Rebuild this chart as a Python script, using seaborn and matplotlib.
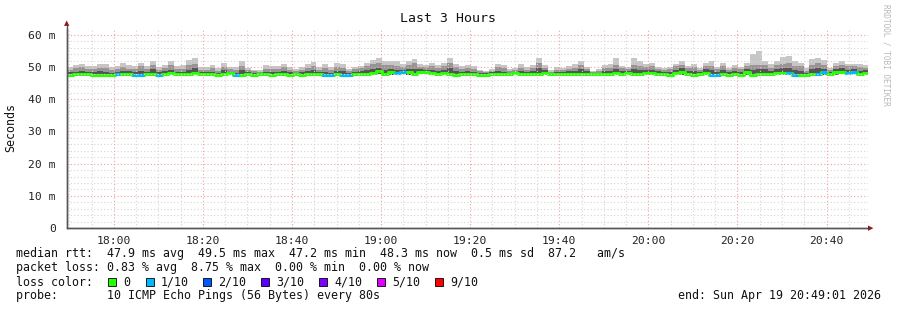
import numpy as np
import pandas as pd
import matplotlib
matplotlib.use("Agg")
import matplotlib.pyplot as plt
from matplotlib.patches import Rectangle
import seaborn as sns

# ---------------- data ----------------
title = "Last 3 Hours"
tick_pos = [0, 20, 40, 60, 80, 100, 120, 140, 160]          # minutes after 18:00
tick_labels = ["18:00", "18:20", "18:40", "19:00", "19:20", "19:40", "20:00", "20:20", "20:40"]
ytick_vals = [0, 10, 20, 30, 40, 50, 60]
ytick_labels = ["0", "10 m", "20 m", "30 m", "40 m", "50 m", "60 m"]
start_min = -10.5        # 17:49:30 relative to 18:00
step_min = 80 / 60.0     # 80 s steps

med = [47.7, 47.8, 47.8, 47.8, 47.7, 47.7, 47.7, 47.6, 47.9, 47.8,
       47.9, 47.6, 47.6, 48.0, 48.0, 47.7, 48.0, 48.2, 47.8, 47.9,
       48.0, 48.2, 47.8, 47.9, 47.8, 47.7, 47.8, 48.1, 47.7, 47.6,
       47.8, 47.7, 47.8, 47.8, 47.7, 47.8, 47.9, 47.6, 47.8, 47.6,
       47.8, 48.0, 47.8, 47.5, 47.5, 47.9, 47.4, 47.4, 47.8, 47.8,
       48.0, 48.2, 48.8, 47.9, 48.4, 48.3, 48.6, 48.4, 48.0, 48.6,
       48.5, 48.2, 48.0, 48.3, 48.0, 47.7, 47.8, 47.9, 47.8, 47.7,
       47.7, 47.9, 48.0, 47.8, 47.8, 48.1, 47.8, 47.9, 48.0, 47.9,
       48.3, 47.8, 47.8, 47.8, 48.0, 47.8, 47.9, 48.0, 47.8, 47.8,
       47.9, 48.0, 48.1, 47.9, 48.1, 47.9, 47.8, 48.2, 48.1, 48.0,
       47.8, 47.6, 48.2, 48.4, 48.0, 47.6, 48.0, 48.3, 47.7, 47.7,
       48.0, 47.6, 47.8, 47.6, 48.4, 47.6, 47.8, 47.8, 47.9, 48.2,
       48.3, 48.1, 47.6, 47.6, 47.4, 47.8, 48.0, 48.4, 48.0, 48.4,
       48.6, 48.2, 48.6, 48.0, 48.2]

smoke_lo = [47.3, 47.4, 47.3, 47.4, 47.3, 47.3, 47.2, 47.2, 47.4, 47.3,
            47.4, 47.2, 47.2, 47.5, 47.5, 47.3, 47.5, 47.6, 47.3, 47.4,
            47.5, 47.6, 47.3, 47.4, 47.3, 47.3, 47.4, 47.5, 47.2, 47.1,
            47.3, 47.2, 47.3, 47.3, 47.2, 47.3, 47.4, 47.2, 47.3, 47.2,
            47.3, 47.5, 47.3, 47.1, 47.1, 47.4, 47.0, 47.0, 47.3, 47.3,
            47.5, 47.6, 47.9, 47.4, 47.7, 47.6, 47.8, 47.7, 47.4, 47.8,
            47.8, 47.5, 47.4, 47.6, 47.4, 47.2, 47.3, 47.4, 47.3, 47.2,
            47.2, 47.4, 47.4, 47.3, 47.3, 47.5, 47.3, 47.4, 47.4, 47.4,
            47.6, 47.3, 47.3, 47.3, 47.4, 47.3, 47.4, 47.4, 47.3, 47.3,
            47.4, 47.4, 47.5, 47.4, 47.5, 47.4, 47.3, 47.6, 47.5, 47.4,
            47.3, 47.1, 47.6, 47.7, 47.4, 47.1, 47.4, 47.6, 47.2, 47.2,
            47.4, 47.1, 47.3, 47.1, 47.7, 47.1, 47.3, 47.3, 47.4, 47.6,
            47.6, 47.5, 47.1, 47.1, 47.0, 47.3, 47.4, 47.7, 47.4, 47.7,
            47.8, 47.6, 47.8, 47.4, 47.6]

smoke_hi = [50.0, 50.8, 51.0, 50.4, 50.4, 51.0, 51.0, 50.0, 50.4, 51.2,
            50.7, 50.4, 51.4, 50.4, 52.0, 50.0, 50.7, 52.0, 50.4, 50.6,
            52.2, 52.8, 50.0, 50.0, 50.7, 49.6, 51.2, 50.1, 50.0, 51.8,
            49.8, 49.2, 49.0, 50.7, 50.2, 50.2, 51.0, 50.0, 49.4, 50.0,
            51.0, 51.5, 50.0, 51.0, 50.0, 51.2, 51.0, 49.4, 50.0, 50.4,
            51.4, 52.2, 52.8, 52.0, 52.0, 51.8, 51.0, 51.8, 52.5, 51.0,
            50.7, 51.4, 50.7, 51.2, 52.8, 51.0, 50.4, 50.7, 50.4, 49.1,
            48.9, 49.4, 51.1, 50.7, 49.4, 49.7, 50.9, 49.9, 50.7, 52.8,
            50.7, 49.1, 49.9, 49.7, 50.3, 50.9, 52.0, 50.1, 48.9, 49.4,
            50.7, 50.9, 52.8, 50.4, 50.1, 52.8, 52.0, 50.9, 51.4, 50.1,
            49.7, 50.0, 51.1, 52.0, 50.4, 51.1, 49.7, 51.4, 52.0, 50.1,
            51.4, 49.7, 50.7, 50.1, 51.4, 54.2, 55.0, 52.0, 51.1, 52.0,
            53.2, 53.4, 52.0, 51.4, 49.7, 52.5, 52.8, 52.2, 49.7, 51.4,
            52.0, 51.1, 51.1, 51.1, 50.7]

smoke_mid = [49.2, 49.6, 50.0, 49.4, 49.5, 49.8, 49.6, 49.0, 49.3, 50.0,
             49.5, 49.4, 50.2, 49.5, 50.8, 49.2, 49.6, 50.6, 49.5, 49.4,
             50.6, 51.0, 49.2, 49.0, 49.6, 48.9, 50.0, 49.3, 49.0, 50.5,
             49.0, 48.8, 48.6, 49.5, 49.3, 49.4, 50.0, 49.2, 48.8, 49.2,
             49.8, 50.4, 49.2, 49.8, 49.2, 50.0, 49.8, 48.8, 49.3, 49.6,
             50.2, 50.9, 51.4, 50.8, 50.6, 50.5, 49.9, 50.6, 51.2, 50.0,
             49.9, 50.4, 49.8, 50.2, 51.4, 50.0, 49.5, 49.6, 49.5, 48.7,
             48.5, 48.8, 50.0, 49.6, 48.8, 49.2, 49.8, 49.2, 49.7, 51.2,
             49.8, 48.6, 49.2, 49.0, 49.4, 49.8, 50.8, 49.4, 48.4, 48.8,
             49.6, 49.8, 50.8, 49.6, 49.4, 50.8, 50.4, 49.9, 50.2, 49.4,
             49.0, 49.3, 50.2, 50.8, 49.6, 50.0, 49.0, 50.4, 50.4, 49.4,
             50.2, 49.0, 49.6, 49.4, 50.2, 50.6, 50.8, 50.6, 49.8, 50.8,
             51.0, 51.2, 50.4, 50.2, 48.8, 50.8, 51.2, 50.6, 49.0, 50.4,
             50.8, 50.2, 50.4, 50.0, 49.8]

smoke_dk = [48.4, 48.6, 48.9, 48.6, 48.5, 48.8, 48.6, 48.2, 48.6, 48.8,
            48.7, 48.4, 48.9, 48.6, 49.4, 48.4, 48.7, 49.2, 48.6, 48.5,
            49.2, 49.8, 48.5, 48.4, 48.6, 48.2, 49.0, 48.6, 48.3, 49.2,
            48.4, 48.2, 48.2, 48.6, 48.5, 48.6, 48.9, 48.4, 48.3, 48.4,
            48.8, 49.0, 48.5, 48.6, 48.3, 48.9, 48.7, 48.1, 48.5, 48.7,
            49.0, 49.4, 49.8, 49.2, 49.3, 49.2, 49.1, 49.3, 49.4, 49.3,
            49.1, 49.2, 48.8, 49.2, 49.6, 48.7, 48.6, 48.7, 48.6, 48.3,
            48.2, 48.4, 48.9, 48.6, 48.3, 48.6, 48.8, 48.5, 48.8, 49.6,
            49.0, 48.3, 48.5, 48.4, 48.7, 48.7, 49.4, 48.7, 48.2, 48.3,
            48.7, 48.8, 49.4, 48.7, 48.7, 49.3, 49.2, 49.0, 49.1, 48.7,
            48.4, 48.5, 49.2, 49.6, 48.8, 48.8, 48.5, 49.3, 49.0, 48.6,
            49.0, 48.4, 48.7, 48.5, 49.3, 49.2, 49.4, 49.3, 48.8, 49.4,
            49.6, 49.6, 49.0, 48.9, 48.2, 49.3, 49.6, 49.5, 48.6, 49.4,
            49.6, 49.2, 49.5, 48.9, 49.0]

# packet loss per step (number of lost pings out of 10)
loss = [0] * 135
for _i in [8, 11, 12, 15, 28, 43, 44, 46, 47, 55, 56, 108, 109, 121, 122, 126, 127, 131, 132]:
    loss[_i] = 1

loss_labels = ["0", "1/10", "2/10", "3/10", "4/10", "5/10", "9/10"]
loss_colors = ["#26ff00", "#00b8ff", "#0059ff", "#5e00ff", "#7e00ff", "#dd00ff", "#ff0000"]
loss_levels = [0, 1, 2, 3, 4, 5, 9]

line1 = "median rtt:  47.9 ms avg  49.5 ms max  47.2 ms min  48.3 ms now  0.5 ms sd  87.2   am/s"
line2 = "packet loss: 0.83 % avg  8.75 % max  0.00 % min  0.00 % now"
line3 = "loss color:"
line4 = "probe:       10 ICMP Echo Pings (56 Bytes) every 80s"
end_text = "end: Sun Apr 19 20:49:01 2026"
side_text = "RRDTOOL / TOBI OETIKER"

# ---------------- drawing ----------------
sns.set_style("white")
plt.rcParams["font.family"] = ["DejaVu Sans Mono", "DejaVu Sans"]

W, H = 897, 310
fig = plt.figure(figsize=(W / 100, H / 100), dpi=100)
fig.patch.set_facecolor("white")

def fx(x):
    return x / W

def fy(y):
    return 1 - y / H

ax_l, ax_r, ax_b, ax_t = 67, 868, 228, 28.5
ax = fig.add_axes([fx(ax_l), fy(ax_b), (ax_r - ax_l) / W, (ax_b - ax_t) / H])
ax.set_facecolor("white")

n = len(med)
t = [start_min + i * step_min for i in range(n)]
df = pd.DataFrame({"t": t, "med": med, "lo": smoke_lo, "hi": smoke_hi,
                   "mid": smoke_mid, "dk": smoke_dk, "loss": loss})

# smoke layers
ax.bar(df["t"], df["hi"] - df["lo"], bottom=df["lo"], width=step_min, align="edge",
       color="#c6c6c6", linewidth=0, zorder=1)
ax.bar(df["t"], df["mid"] - df["lo"], bottom=df["lo"], width=step_min, align="edge",
       color="#959595", linewidth=0, zorder=1.1)
ax.bar(df["t"], df["dk"] - df["lo"], bottom=df["lo"], width=step_min, align="edge",
       color="#555555", linewidth=0, zorder=1.2)

# median line (step), coloured by loss
med_df = pd.DataFrame({"t": t + [t[-1] + step_min], "med": med + [med[-1]]})
sns.lineplot(data=med_df, x="t", y="med", drawstyle="steps-post", color=loss_colors[0],
             linewidth=2.2, estimator=None, sort=False, ax=ax, zorder=3)
for lvl, col in zip(loss_levels[1:], loss_colors[1:]):
    sel = df[df["loss"] == lvl]
    if len(sel):
        ax.hlines(sel["med"], sel["t"], sel["t"] + step_min, colors=col, linewidth=2.2, zorder=3.1)

ax.set_xlim(start_min, 169.3)
ax.set_ylim(0, 62)

# grids
for m in np.arange(-10, 170, 5):
    if m % 20 != 0:
        ax.axvline(m, color="#d6d6d6", lw=0.8, ls=(0, (1, 2)), zorder=4)
for v in np.arange(2, 62, 2):
    if v % 10 != 0:
        ax.axhline(v, color="#d6d6d6", lw=0.8, ls=(0, (1, 2)), zorder=4)
for m in tick_pos:
    ax.axvline(m, color="#f2a0a0", lw=0.8, ls=(0, (1, 2)), zorder=4.1)
for v in ytick_vals[1:]:
    ax.axhline(v, color="#f2a0a0", lw=0.8, ls=(0, (1, 2)), zorder=4.1)

ax.set_xticks(tick_pos)
ax.set_xticklabels(tick_labels)
ax.set_yticks(ytick_vals)
ax.set_yticklabels(ytick_labels)
ax.tick_params(axis="both", length=3, width=0.8, color="#444444", pad=3,
               labelsize=8.2, labelcolor="#222222", direction="out")
ax.tick_params(axis="y", pad=5)
ax.set_xlabel("")
ax.set_ylabel("")

for s in ["top", "right"]:
    ax.spines[s].set_visible(False)
for s in ["left", "bottom"]:
    ax.spines[s].set_color("#555555")
    ax.spines[s].set_linewidth(1.0)
    ax.spines[s].set_zorder(5)

# axis arrows
fig.text(fx(67), fy(23), "\u25B2", color="#8b1a1a", fontsize=5, ha="center", va="center",
         family="DejaVu Sans")
fig.text(fx(871), fy(228), "\u25B6", color="#8b1a1a", fontsize=5, ha="center", va="center",
         family="DejaVu Sans")
fig.add_artist(plt.Line2D([fx(67), fx(67)], [fy(228), fy(25)], color="#555555", lw=1.0))
fig.add_artist(plt.Line2D([fx(67), fx(869)], [fy(228), fy(228)], color="#555555", lw=1.0))

# texts
fig.text(fx(448), fy(19), title, ha="center", va="center", fontsize=9.5, color="#111111")
fig.text(fx(11), fy(127), "Seconds", rotation=90, ha="center", va="center", fontsize=8.4,
         color="#111111")
fig.text(fx(886), fy(4), side_text, rotation=270, ha="center", va="top", fontsize=5.6,
         color="#b8b8b8")

fs = 8.4
fig.text(fx(16), fy(254), line1, ha="left", va="center", fontsize=fs, color="#111111")
fig.text(fx(16), fy(268), line2, ha="left", va="center", fontsize=fs, color="#111111")
fig.text(fx(16), fy(282), line3, ha="left", va="center", fontsize=fs, color="#111111")
fig.text(fx(16), fy(296), line4, ha="left", va="center", fontsize=fs, color="#111111")
fig.text(fx(881), fy(296), end_text, ha="right", va="center", fontsize=fs, color="#111111")

box_x = [108, 146, 203, 261, 319, 377, 435]
for bx, lab, col in zip(box_x, loss_labels, loss_colors):
    fig.add_artist(Rectangle((fx(bx), fy(286)), 8 / W, 8 / H, transform=fig.transFigure,
                             facecolor=col, edgecolor="#000000", linewidth=0.6))
    fig.text(fx(bx + 15), fy(282), lab, ha="left", va="center", fontsize=fs, color="#111111")

fig.savefig("out.png", dpi=100)
